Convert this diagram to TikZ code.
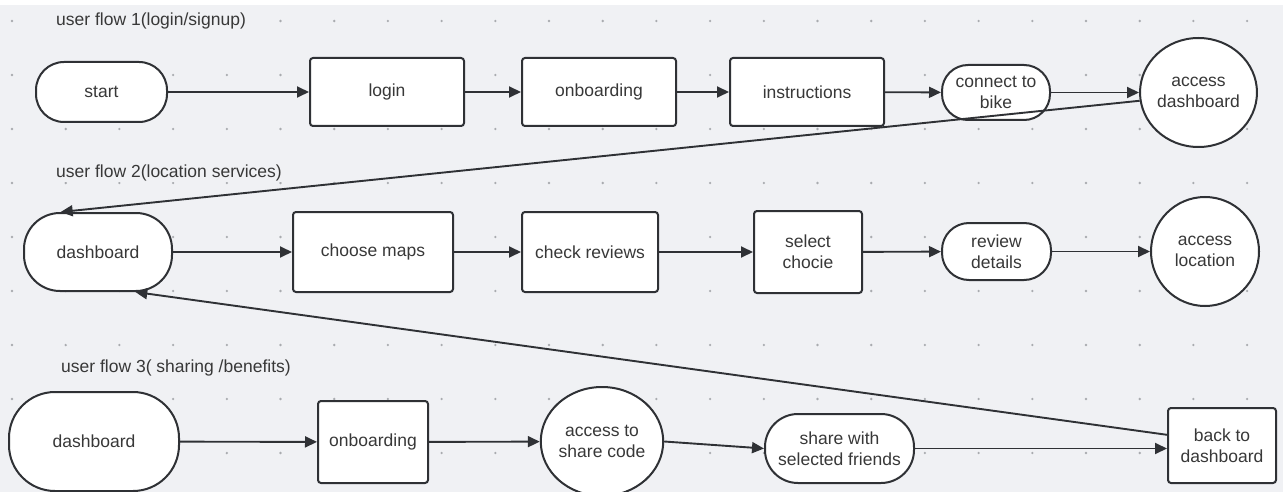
\documentclass[tikz,border=0pt]{standalone}
\usepackage{fontspec}
\setmainfont{Liberation Sans}
\usetikzlibrary{arrows.meta,shapes.geometric}
\definecolor{bg}{HTML}{F0F1F4}
\definecolor{ln}{HTML}{2F3135}
\definecolor{tx}{HTML}{383838}
\definecolor{dotc}{HTML}{A9ABAF}
\begin{document}
\begin{tikzpicture}[x=1pt,y=-1pt,
  every node/.style={font=\fontsize{17.5}{21}\selectfont, text=tx},
  base/.style={draw=ln, line width=2pt, fill=white, inner sep=0pt, align=center},
  box/.style={base, rounded corners=3pt},
  term/.style={base, rounded corners=#1},
  oval/.style={base, ellipse},
  heading/.style={anchor=west, fill=bg, inner sep=1pt},
  arr/.style={draw=ln, line width=1.9pt, -{Triangle[length=12pt,width=11pt]}}]
\useasboundingbox (0,0) rectangle (1283,492);
\fill[bg] (0,0) rectangle (1283,492);
\fill[white] (0,0) rectangle (1283,5);
\foreach \i in {0,...,23}{
  \foreach \j in {0,...,8}{
    \fill[dotc] ({12+53.7*\i},{21+54*\j}) circle (1.3pt);
  }
}
% headings
\node[heading] (h1) at (55,21) {user flow 1(login/signup)};
\node[heading] (h2) at (55,173) {user flow 2(location services)};
\node[heading] (h3) at (60,368) {user flow 3( sharing /benefits)};
% row 1
\node[term=28pt, minimum width=131pt, minimum height=60pt] (start) at (101.5,92) {start};
\node[box, minimum width=154pt, minimum height=68pt] (login) at (387,92) {login};
\node[box, minimum width=154pt, minimum height=68pt] (onb1) at (599,92) {onboarding};
\node[box, minimum width=154pt, minimum height=68pt] (instr) at (807,92) {instructions};
\node[term=26pt, minimum width=108pt, minimum height=55pt] (bike) at (996,92.5) {connect to\\bike};
\node[oval, minimum width=107pt, minimum height=109pt] (accdash) at (1198.5,92.5) {access\\dashboard};
% row 2
\node[term=36pt, minimum width=148pt, minimum height=78pt] (dash2) at (98,252) {dashboard};
\node[box, minimum width=160pt, minimum height=80pt] (maps) at (373,252) {choose maps};
\node[box, minimum width=136pt, minimum height=80pt] (reviews) at (590,252) {check reviews};
\node[box, minimum width=108pt, minimum height=82pt] (select) at (808,252) {select\\chocie};
\node[term=27pt, minimum width=109pt, minimum height=57pt] (revdet) at (996.5,251.5) {review\\details};
\node[oval, minimum width=108pt, minimum height=109pt] (accloc) at (1205,251.5) {access\\location};
% row 3
\node[term=46pt, minimum width=170pt, minimum height=99pt] (dash3) at (94,441.5) {dashboard};
\node[box, minimum width=110pt, minimum height=82pt] (onb3) at (373,442) {onboarding};
\node[oval, minimum width=110pt, minimum height=109pt] (code) at (602,441.5) {access to\\share code};
\node[term=33pt, minimum width=149pt, minimum height=69pt] (share) at (839.5,448.5) {share with\\selected friends};
\node[box, minimum width=108pt, minimum height=75pt] (back) at (1222,445.5) {back to\\dashboard};
% connectors
\draw[arr] (start) -- (login);
\draw[arr] (login) -- (onb1);
\draw[arr] (onb1) -- (instr);
\draw[arr] (instr) -- (bike);
\draw[arr] (bike) -- (accdash);
\draw[arr] (accdash.188) -- (dash2.133);
\draw[arr] (dash2) -- (maps);
\draw[arr] (maps) -- (reviews);
\draw[arr] (reviews) -- (select);
\draw[arr] (select) -- (revdet);
\draw[arr] (revdet) -- (accloc);
\draw[arr] (dash3) -- (onb3);
\draw[arr] (onb3) -- (code);
\draw[arr] (code.east) -- (share.west);
\draw[arr] (share.east) -- (back.west |- share.east);
\draw[arr] (back.169) -- (dash2.313);
\end{tikzpicture}
\end{document}
